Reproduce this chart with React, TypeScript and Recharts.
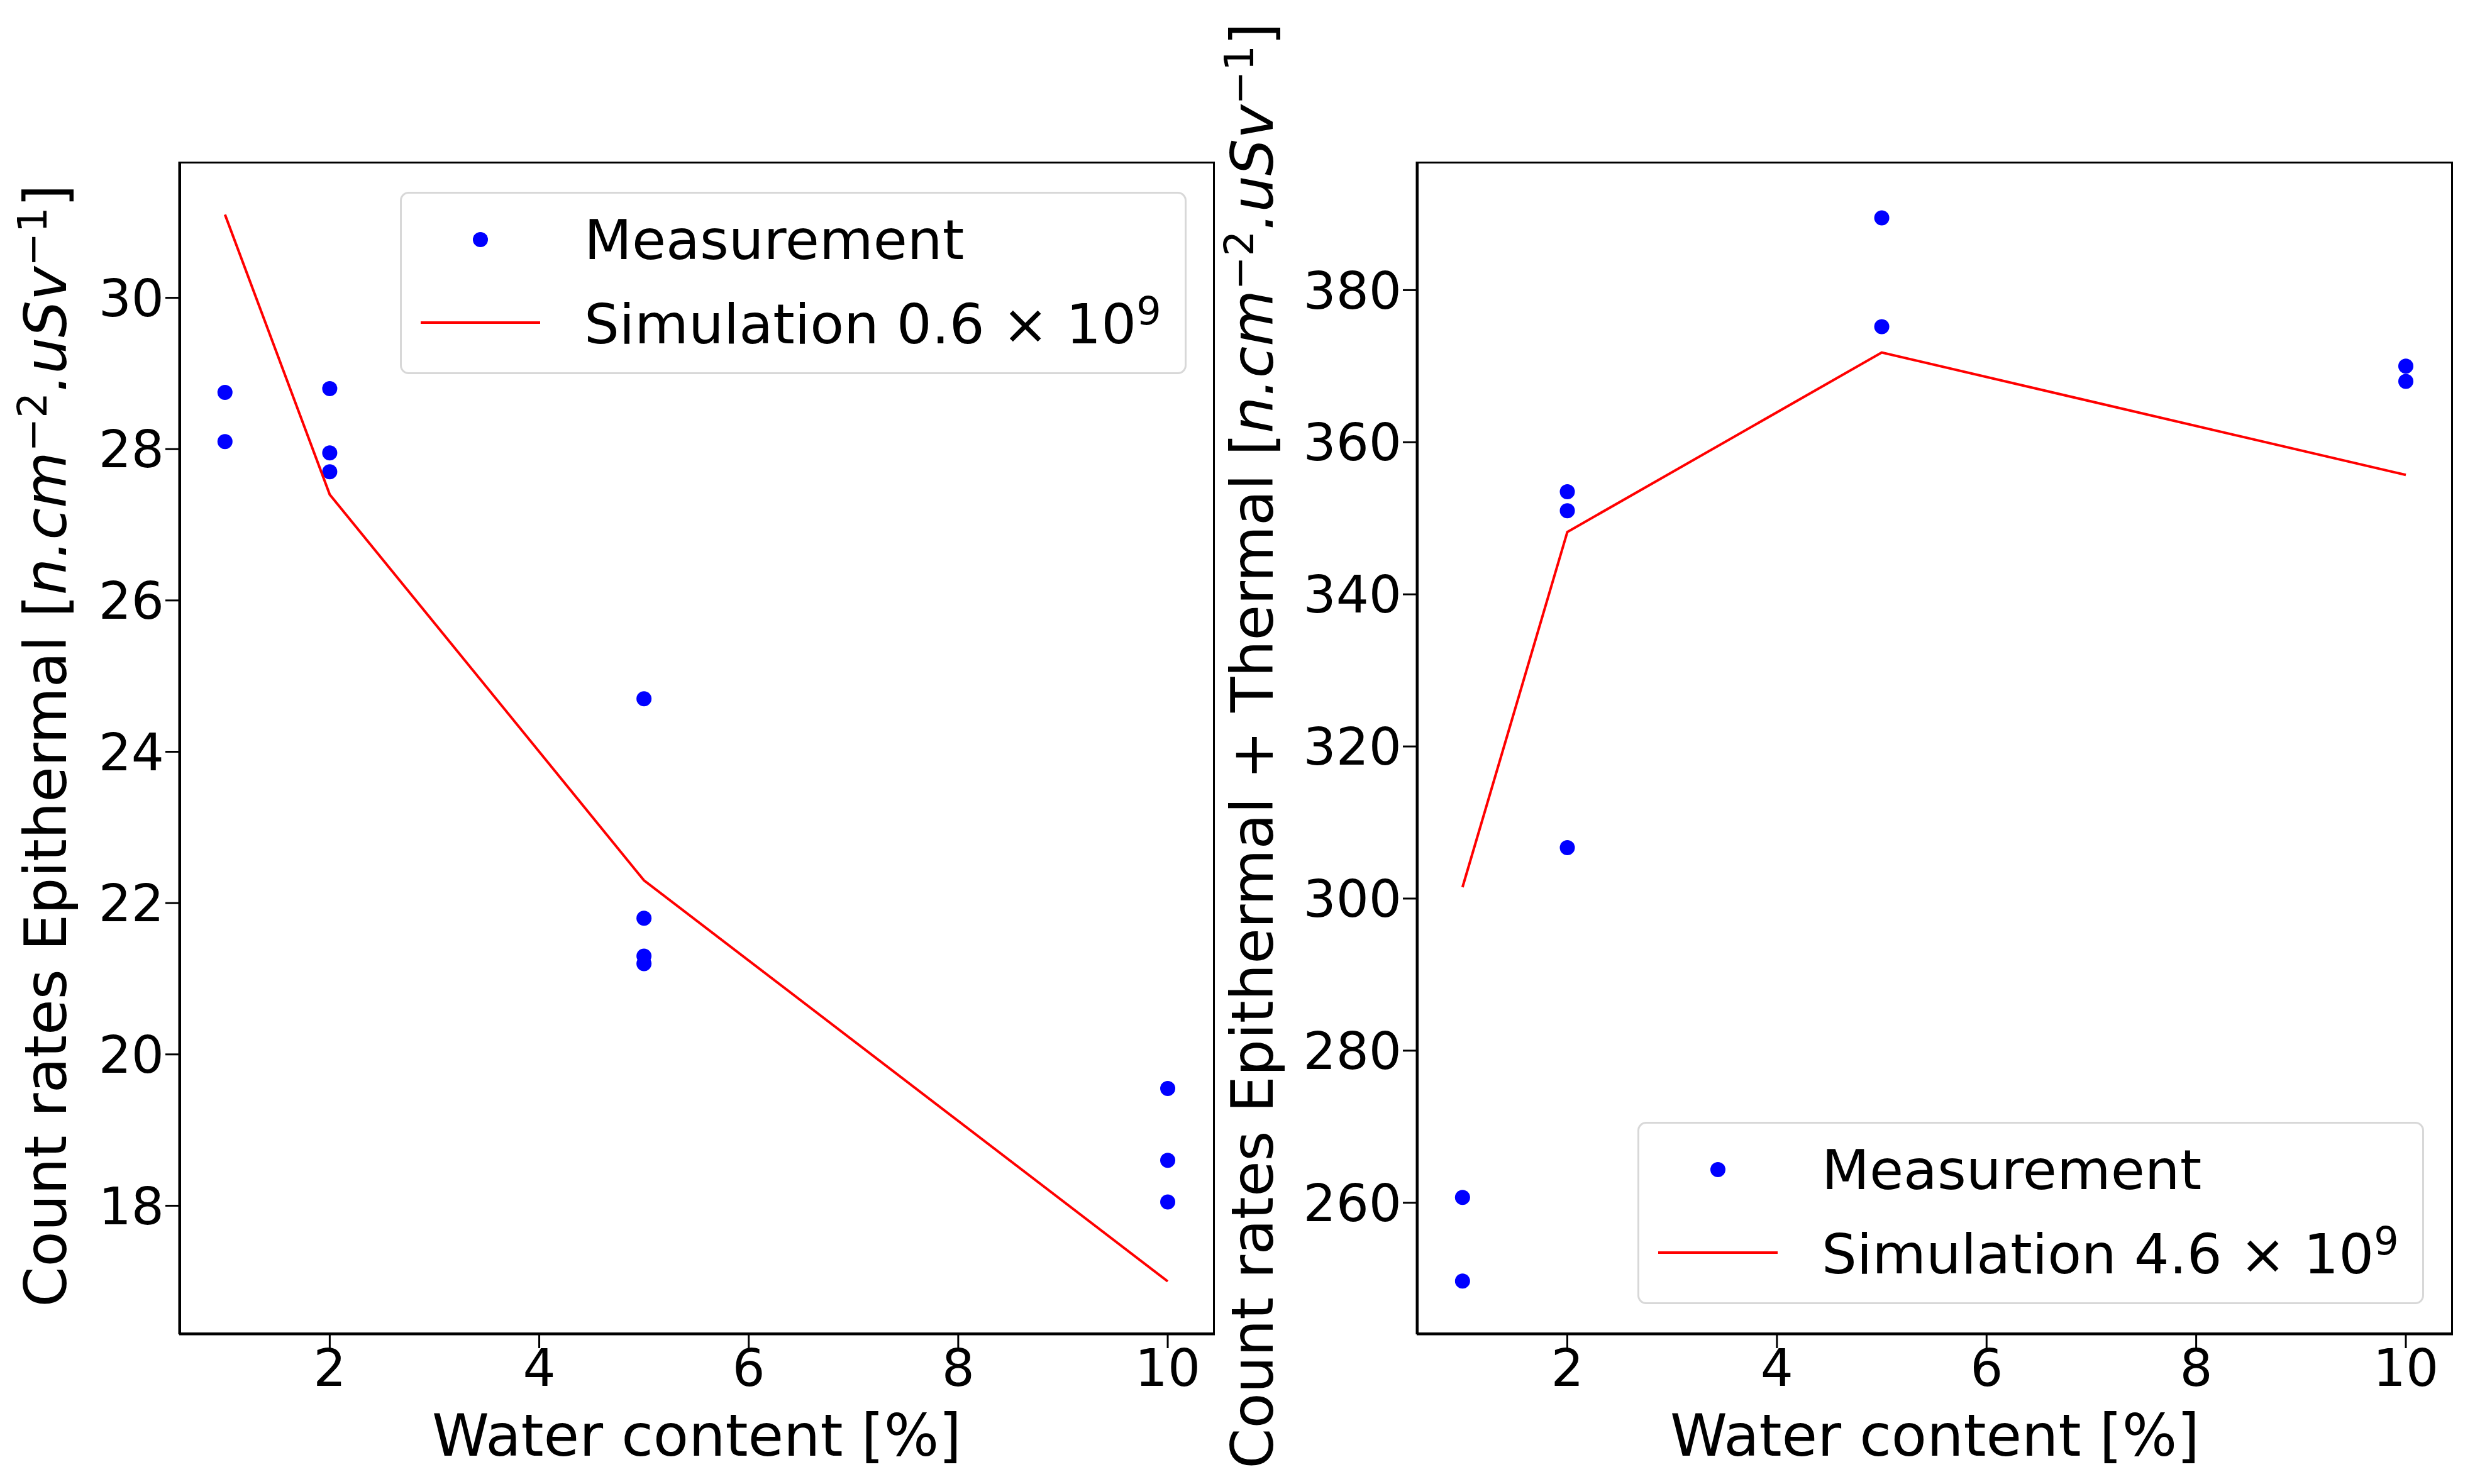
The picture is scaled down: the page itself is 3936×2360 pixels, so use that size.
import React from 'react';
import { ScatterChart, Scatter, XAxis, YAxis } from 'recharts';

// Water content [%] vs count rates
const epiMeasX = [1, 1, 2, 2, 2, 5, 5, 5, 5, 10, 10, 10];
const epiMeasY = [28.75, 28.1, 28.8, 27.95, 27.7, 24.7, 21.8, 21.3, 21.2, 19.55, 18.6, 18.05];
const simX = [1, 2, 5, 10];
const epiSimY = [31.1, 27.4, 22.3, 17.0];

const totMeasX = [1, 1, 2, 2, 2, 5, 5, 10, 10];
const totMeasY = [260.7, 249.7, 353.5, 351, 306.7, 389.5, 375.2, 370, 368];
const totSimY = [301.5, 348.2, 371.8, 355.7];

const xTicks = [2, 4, 6, 8, 10];
const epiTicks = [18, 20, 22, 24, 26, 28, 30];
const totTicks = [260, 280, 300, 320, 340, 360, 380];

const zip = (xs: number[], ys: number[]) => xs.map((x, i) => ({ x, y: ys[i] }));

const FONT = 'DejaVu Sans, sans-serif';
const TICK = { fontSize: 82, fill: '#000', fontFamily: FONT };

const Dot = (p: any) => <circle cx={p.cx} cy={p.cy} r={12} fill="#0000ff" />;
const NoDot = () => null;

const Panel = (props: {
  left: number; plotLeft: number; plotRight: number;
  meas: { x: number; y: number }[]; sim: { x: number; y: number }[];
  yDomain: [number, number]; yTicks: number[];
}) => {
  const width = props.plotRight - props.left + 20;
  const yw = 200;
  return (
    <div style={{ position: 'absolute', left: props.left, top: 0 }}>
      <ScatterChart width={width} height={2360}
        margin={{ top: 257, bottom: 238 - 110, left: props.plotLeft - props.left - yw, right: 20 }}>
        <XAxis type="number" dataKey="x" domain={[0.563, 10.45]} ticks={xTicks} allowDataOverflow
          tick={TICK} tickSize={22} height={110} stroke="#000" strokeWidth={3} />
        <YAxis type="number" dataKey="y" domain={props.yDomain} ticks={props.yTicks} allowDataOverflow
          tick={TICK} tickSize={22} width={yw} stroke="#000" strokeWidth={3} />
        <Scatter data={props.meas} shape={Dot} isAnimationActive={false} />
        <Scatter data={props.sim} line={{ stroke: '#ff0000', strokeWidth: 4 }} shape={NoDot} isAnimationActive={false} />
      </ScatterChart>
      <div style={{
        position: 'absolute', left: props.plotLeft - props.left, top: 257,
        width: props.plotRight - props.plotLeft, height: 2122 - 257,
        border: '3px solid #000', boxSizing: 'border-box', pointerEvents: 'none',
      }} />
    </div>
  );
};

const LegendBox = ({ left, top, exp }: { left: number; top: number; exp: string }) => (
  <div style={{
    position: 'absolute', left, top, width: 1251, height: 290, boxSizing: 'border-box',
    border: '3px solid #d8d8d8', borderRadius: 14, background: 'rgba(255,255,255,0.85)',
    fontFamily: FONT, fontSize: 88, color: '#000',
  }}>
    <div style={{ position: 'absolute', left: 30, top: 18, height: 110, display: 'flex', alignItems: 'center' }}>
      <div style={{ width: 190, display: 'flex', justifyContent: 'center' }}>
        <div style={{ width: 24, height: 24, borderRadius: 12, background: '#0000ff' }} />
      </div>
      <span style={{ marginLeft: 70 }}>Measurement</span>
    </div>
    <div style={{ position: 'absolute', left: 30, top: 150, height: 110, display: 'flex', alignItems: 'center' }}>
      <div style={{ width: 190, height: 4, background: '#ff0000' }} />
      <span style={{ marginLeft: 70 }}>Simulation {exp} × 10<sup style={{ fontSize: 62 }}>9</sup></span>
    </div>
  </div>
);

const YTitle = ({ cx, text }: { cx: number; text: string }) => (
  <div style={{
    position: 'absolute', left: cx, top: 1186, transform: 'translate(-50%, -50%) rotate(-90deg)',
    whiteSpace: 'nowrap', fontFamily: FONT, fontSize: 92,
  }}>
    {text} [<i>n.cm</i><sup style={{ fontSize: 64 }}>−2</sup><i>.uSv</i><sup style={{ fontSize: 64 }}>−1</sup>]
  </div>
);

const XTitle = ({ cx }: { cx: number }) => (
  <div style={{
    position: 'absolute', left: cx, top: 2283, transform: 'translate(-50%, -50%)',
    whiteSpace: 'nowrap', fontFamily: FONT, fontSize: 92,
  }}>Water content [%]</div>
);

export default function App() {
  return (
    <div style={{ position: 'absolute', left: 0, top: 0, width: 3936, height: 2360, background: '#fff', overflow: 'hidden' }}>
      <Panel left={0} plotLeft={285} plotRight={1932} meas={zip(epiMeasX, epiMeasY)} sim={zip(simX, epiSimY)}
        yDomain={[16.3, 31.8]} yTicks={epiTicks} />
      <Panel left={1970} plotLeft={2253} plotRight={3901} meas={zip(totMeasX, totMeasY)} sim={zip(simX, totSimY)}
        yDomain={[242.7, 396.9]} yTicks={totTicks} />
      <LegendBox left={636} top={305} exp="0.6" />
      <LegendBox left={2604} top={1784} exp="4.6" />
      <YTitle cx={71} text="Count rates Epithermal" />
      <YTitle cx={1990} text="Count rates Epithermal + Thermal" />
      <XTitle cx={1108} />
      <XTitle cx={3077} />
    </div>
  );
}
